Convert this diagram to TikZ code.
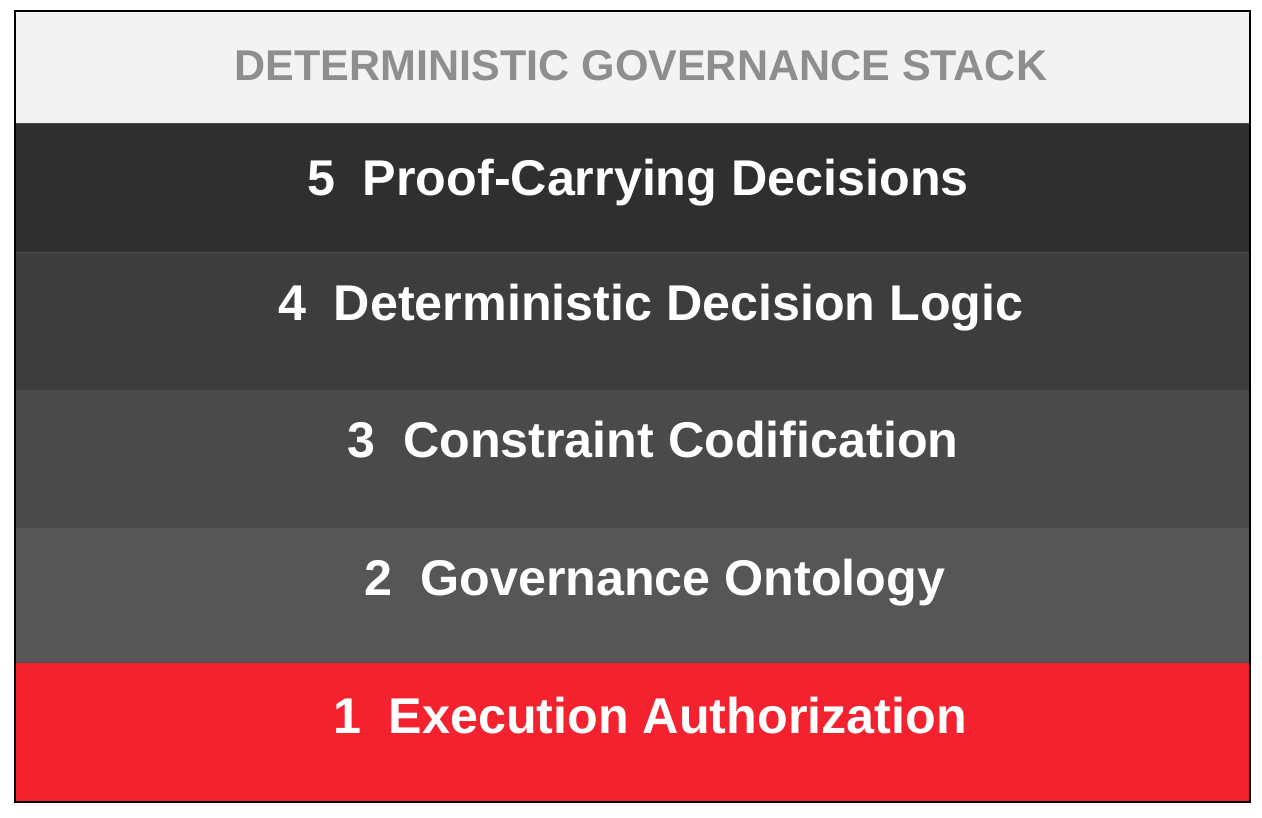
\documentclass[tikz,border=0pt]{standalone}
\usepackage{fontspec}
\setmainfont{Liberation Sans}
\definecolor{titlegray}{HTML}{F3F3F3}
\definecolor{titletext}{HTML}{8E8E8E}
\definecolor{capa5}{HTML}{2F2F2F}
\definecolor{capa4}{HTML}{3D3D3D}
\definecolor{capa3}{HTML}{4A4A4A}
\definecolor{capa2}{HTML}{565656}
\definecolor{capa1}{HTML}{F4222E}
\tikzset{
  band/.style={draw=black!70, line width=0.6pt, inner sep=0pt, anchor=north west,
    minimum width=24.68cm},
  bandlabel/.style={text=white, anchor=base, font=\bfseries\fontsize{28.6}{34}\selectfont},
}
\newcommand{\nivel}[2]{#1\hspace{0.55em}#2}
\begin{document}
\begin{tikzpicture}[x=0.02cm,y=-0.02cm]
  \useasboundingbox (0,0) rectangle (1262,818);
  \fill[white] (0,0) rectangle (1262,818);

  % Bandas
  \node[band, fill=titlegray, minimum height=2.24cm] (b0) at (15,11) {};
  \node[band, fill=capa5, minimum height=2.58cm] (b5) at (15,123) {};
  \node[band, fill=capa4, minimum height=2.76cm] (b4) at (15,252) {};
  \node[band, fill=capa3, minimum height=2.74cm] (b3) at (15,390) {};
  \node[band, fill=capa2, minimum height=2.70cm] (b2) at (15,527) {};
  \node[band, fill=capa1, minimum height=2.78cm] (b1) at (15,662) {};

  % Borde
  \draw[black, line width=0.8pt] (b0.north west) rectangle (b1.south east);

  % Textos
  \node[text=titletext, anchor=base, font=\bfseries\fontsize{24.5}{29}\selectfont] (titulo)
    at (641,80) {DETERMINISTIC GOVERNANCE STACK};
  \node[bandlabel] (l5) at (638,195) {\nivel{5}{Proof-Carrying Decisions}};
  \node[bandlabel] (l4) at (651,320) {\nivel{4}{Deterministic Decision Logic}};
  \node[bandlabel] (l3) at (653,457) {\nivel{3}{Constraint Codification}};
  \node[bandlabel] (l2) at (655,595) {\nivel{2}{Governance Ontology}};
  \node[bandlabel] (l1) at (650,733) {\nivel{1}{Execution Authorization}};
\end{tikzpicture}
\end{document}
